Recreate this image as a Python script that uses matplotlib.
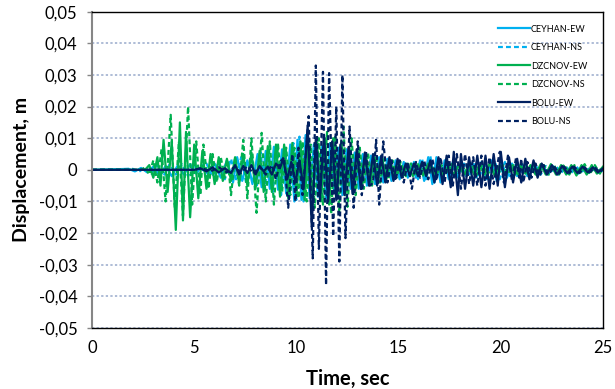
import numpy as np
import matplotlib
matplotlib.use("Agg")
import matplotlib.pyplot as plt
from matplotlib.ticker import FuncFormatter, MultipleLocator

plt.rcParams['font.family'] = ['Lato', 'DejaVu Sans']

# peaks, (time in s, displacement in mm)
ceyhan_ew_mm = [(0, 0), (1.8, 0.3), (2.1, -0.5), (2.4, 0.6), (2.7, -0.8), (3.0, 1.0), (3.3, -1.8), (3.6, 1.2),
    (3.9, -2.0), (4.2, 1.5), (4.5, -1.5), (4.8, 1.8), (5.1, -1.2), (5.4, 1.5), (5.7, -1.8), (6.0, 2.0),
    (6.3, -2.5), (6.6, 3.0), (6.9, -4.0), (7.1, 4.0), (7.35, -3.5), (7.6, 3.0), (7.85, -4.5), (8.1, 5.0),
    (8.3, -5.5), (8.5, 6.0), (8.7, -6.0), (8.9, 7.3), (9.1, -6.3), (9.3, 6.5), (9.5, -7.5), (9.7, 8.0),
    (9.9, -10.0), (10.05, 9.5), (10.25, -9.5), (10.45, 11.0), (10.65, -9.0), (10.85, 8.0), (11.05, -8.5),
    (11.25, 7.5), (11.45, -9.0), (11.65, 8.5), (11.85, -7.0), (12.05, 7.0), (12.25, -8.0), (12.45, 6.5),
    (12.65, -6.0), (12.85, 5.5), (13.05, -6.0), (13.25, 5.0), (13.45, -5.0), (13.65, 4.5), (13.85, -4.5),
    (14.05, 4.0), (14.25, -4.0), (14.45, 3.5), (14.65, -3.5), (14.85, 3.0), (15.05, -3.0), (15.25, 2.5),
    (15.45, -2.5), (15.65, 2.0), (15.85, -2.5), (16.05, 3.0), (16.25, -3.5), (16.45, 4.0), (16.65, -4.5),
    (16.85, 4.0), (17.05, -4.0), (17.25, 3.0), (17.45, -3.0), (17.65, 2.5), (17.85, -2.5), (18.05, 2.0),
    (18.3, -2.0), (18.55, 2.0), (18.8, -2.5), (19.05, 2.5), (19.3, -3.0), (19.55, 3.0), (19.8, -3.5),
    (20.05, 2.5), (20.3, -2.5), (20.55, 2.0), (20.8, -2.0), (21.05, 1.8), (21.3, -2.0), (21.55, 1.5),
    (21.8, -1.5), (22.05, 1.5), (22.3, -1.5), (22.55, 1.2), (22.8, -1.5), (23.05, 1.2), (23.3, -1.2),
    (23.55, 1.0), (23.8, -1.2), (24.05, 1.0), (24.3, -1.0), (24.55, 0.8), (24.8, -1.0), (25.0, 0.5)]

ceyhan_ns_mm = [(0, 0), (2.0, 0.3), (2.3, -0.6), (2.6, 0.8), (2.9, -1.2), (3.2, 1.5), (3.5, -2.0), (3.8, 1.8),
    (4.1, -1.5), (4.4, 1.8), (4.7, -2.0), (5.0, 1.5), (5.3, -1.8), (5.6, 2.0), (5.9, -2.2), (6.2, 2.5),
    (6.5, -3.0), (6.8, 3.5), (7.05, -3.0), (7.3, 4.0), (7.55, -4.5), (7.8, 4.5), (8.05, -5.0), (8.25, 5.5),
    (8.45, -6.5), (8.65, 6.0), (8.85, -7.0), (9.05, 7.5), (9.25, -8.0), (9.45, 7.0), (9.65, -9.0),
    (9.85, 8.5), (10.0, -9.5), (10.15, 10.5), (10.35, -10.0), (10.55, 9.0), (10.75, -8.0), (10.95, 8.5),
    (11.15, -7.5), (11.35, 8.0), (11.55, -8.5), (11.75, 7.0), (11.95, -7.5), (12.15, 6.5), (12.35, -7.0),
    (12.55, 6.0), (12.75, -5.5), (12.95, 5.5), (13.15, -5.0), (13.35, 4.5), (13.55, -4.5), (13.75, 4.0),
    (13.95, -4.0), (14.15, 3.5), (14.35, -3.5), (14.55, 3.0), (14.75, -3.0), (14.95, 2.5), (15.15, -2.5),
    (15.35, 2.0), (15.55, -2.0), (15.75, 2.5), (15.95, -3.0), (16.15, 3.5), (16.35, -3.5), (16.55, 4.5),
    (16.75, -4.0), (16.95, 3.5), (17.15, -3.5), (17.35, 3.0), (17.55, -2.5), (17.75, 2.0), (17.95, -2.0),
    (18.2, 2.0), (18.45, -2.0), (18.7, 2.5), (18.95, -2.5), (19.2, 2.5), (19.45, -3.0), (19.7, 3.0),
    (19.95, -3.0), (20.2, 2.5), (20.45, -2.0), (20.7, 2.0), (20.95, -1.8), (21.2, 1.8), (21.45, -1.5),
    (21.7, 1.5), (21.95, -1.5), (22.2, 1.2), (22.45, -1.2), (22.7, 1.2), (22.95, -1.0), (23.2, 1.0),
    (23.45, -1.0), (23.7, 1.0), (23.95, -0.8), (24.2, 0.8), (24.45, -0.8), (24.7, 0.8), (25.0, -0.5)]

dzcnov_ew_mm = [(0, 0), (2.6, 0), (2.8, 1.5), (3.0, -2.5), (3.2, 4.0), (3.35, -5.0), (3.5, 9.5), (3.7, -7.0),
    (3.9, 9.0), (4.1, -19.0), (4.3, 15.0), (4.45, -16.0), (4.6, 12.0), (4.8, -15.0), (5.0, 8.0), (5.2, -9.0),
    (5.4, 6.0), (5.6, -6.0), (5.8, 5.0), (6.0, -4.5), (6.2, 4.0), (6.4, -3.5), (6.6, 3.5), (6.8, -3.5),
    (7.0, 4.0), (7.2, -4.5), (7.4, 5.0), (7.6, -5.0), (7.8, 5.5), (8.0, -6.0), (8.2, 6.0), (8.4, -7.0),
    (8.6, 7.5), (8.8, -7.0), (9.0, 8.0), (9.2, -8.5), (9.4, 8.0), (9.6, -9.0), (9.8, 8.5), (10.0, -8.0),
    (10.2, 9.0), (10.4, -9.5), (10.6, 8.0), (10.8, -9.0), (11.0, 9.5), (11.2, -10.0), (11.4, 10.0),
    (11.6, -11.0), (11.8, 10.0), (12.0, -9.0), (12.2, 9.0), (12.4, -8.0), (12.6, 7.0), (12.8, -6.5),
    (13.0, 6.0), (13.2, -5.5), (13.4, 5.0), (13.6, -4.5), (13.8, 4.0), (14.0, -3.5), (14.2, 3.5),
    (14.4, -3.0), (14.6, 3.0), (14.8, -2.5), (15.0, 2.5), (15.2, -2.0), (15.45, 2.0), (15.7, -2.0),
    (15.95, 1.8), (16.2, -1.8), (16.45, 2.0), (16.7, -1.5), (16.95, 1.5), (17.2, -1.8), (17.45, 1.5),
    (17.7, -1.5), (17.95, 1.5), (18.2, -1.5), (18.45, 1.8), (18.7, -1.5), (18.95, 1.5), (19.2, -1.5),
    (19.45, 2.0), (19.7, -1.8), (19.95, 1.5), (20.2, -1.5), (20.45, 1.8), (20.7, -1.5), (20.95, 1.5),
    (21.2, -1.2), (21.45, 1.5), (21.7, -1.5), (21.95, 1.8), (22.2, -1.5), (22.45, 1.8), (22.7, -1.5),
    (22.95, 1.5), (23.2, -1.5), (23.45, 1.5), (23.7, -1.8), (23.95, 1.5), (24.2, -1.5), (24.45, 1.5),
    (24.7, -1.2), (25.0, 1.0)]

dzcnov_ns_mm = [(0, 0), (2.4, 0), (2.6, 0.8), (2.8, -1.5), (3.0, 3.0), (3.2, -4.0), (3.4, 6.5), (3.6, -10.0),
    (3.85, 17.4), (4.05, -12.0), (4.25, 9.0), (4.45, -14.5), (4.7, 20.0), (4.9, -11.0), (5.1, 9.0),
    (5.3, -8.0), (5.45, 8.0), (5.7, -6.0), (5.9, 5.0), (6.1, -4.0), (6.3, 4.0), (6.5, -2.5), (6.65, 3.0),
    (6.8, -8.0), (7.0, 4.0), (7.2, -5.0), (7.4, 9.5), (7.6, -9.0), (7.8, 10.0), (8.05, -13.6), (8.3, 11.7),
    (8.5, -10.0), (8.7, 9.0), (8.9, -11.0), (9.1, 8.0), (9.3, -7.0), (9.5, 7.0), (9.7, -8.0), (9.9, 7.0),
    (10.1, -9.0), (10.3, 9.0), (10.5, -10.0), (10.7, 8.0), (10.9, -12.0), (11.1, 10.0), (11.3, -11.0),
    (11.5, 12.0), (11.7, -14.0), (11.9, 11.0), (12.1, -13.7), (12.3, 13.7), (12.5, -11.7), (12.7, 10.0),
    (12.9, -8.0), (13.1, 7.0), (13.3, -6.0), (13.5, 5.5), (13.7, -5.0), (13.9, 4.5), (14.1, -4.0),
    (14.3, 3.5), (14.5, -3.0), (14.7, 3.0), (14.9, -2.5), (15.1, 2.5), (15.35, -2.0), (15.6, 2.0),
    (15.85, -2.0), (16.1, 1.8), (16.35, -1.8), (16.6, 1.8), (16.85, -1.5), (17.1, 1.5), (17.35, -1.5),
    (17.6, 1.8), (17.85, -1.5), (18.1, 1.5), (18.35, -1.8), (18.6, 1.5), (18.85, -1.5), (19.1, 1.8),
    (19.35, -1.5), (19.6, 1.5), (19.85, -1.8), (20.1, 1.5), (20.35, -1.5), (20.6, 1.5), (20.85, -1.5),
    (21.1, 1.8), (21.35, -1.5), (21.6, 1.5), (21.85, -1.2), (22.1, 1.5), (22.35, -1.5), (22.6, 1.5),
    (22.85, -1.5), (23.1, 1.8), (23.35, -1.5), (23.6, 1.5), (23.85, -1.5), (24.1, 1.8), (24.35, -1.5),
    (24.6, 1.5), (24.85, -1.2), (25.0, 0.8)]

bolu_ew_mm = [(0, 0), (5.0, 0), (5.3, 0.5), (5.6, -0.5), (5.9, 0.8), (6.2, -0.8), (6.5, 0.5), (6.8, -1.0),
    (7.0, 1.5), (7.2, -1.5), (7.4, 1.2), (7.6, -1.0), (7.8, 1.5), (8.0, -1.5), (8.2, 1.2), (8.4, -0.5),
    (8.6, 1.0), (8.8, -1.5), (9.0, 2.0), (9.2, 0.5), (9.35, 3.5), (9.55, -3.0), (9.75, 2.5), (9.95, -4.0),
    (10.15, 3.0), (10.35, -6.0), (10.55, 14.0), (10.75, -18.0), (10.95, 10.0), (11.15, -9.0), (11.35, 11.0),
    (11.55, -10.0), (11.75, 9.0), (11.95, -9.5), (12.15, 8.0), (12.35, -8.0), (12.55, 7.0), (12.75, -7.5),
    (12.95, 6.5), (13.15, -6.0), (13.35, 5.5), (13.55, -5.0), (13.75, 5.0), (13.95, -5.0), (14.15, 4.5),
    (14.35, -4.0), (14.55, 4.0), (14.75, -3.5), (14.95, 3.5), (15.15, -2.5), (15.35, 2.0), (15.55, -2.0),
    (15.75, 2.0), (15.95, -2.0), (16.15, 2.5), (16.35, -2.0), (16.55, 3.0), (16.75, -4.0), (16.95, 4.0),
    (17.15, -4.5), (17.35, 4.5), (17.55, -5.5), (17.7, 5.7), (17.9, -8.0), (18.05, 5.0), (18.25, -6.0),
    (18.45, 4.0), (18.65, -5.0), (18.85, 4.5), (19.05, -5.5), (19.25, 4.5), (19.45, -6.0), (19.65, 5.0),
    (19.85, -5.0), (20.0, 5.7), (20.2, -5.5), (20.4, 4.0), (20.6, -4.0), (20.8, 3.5), (21.0, -4.0),
    (21.2, 3.5), (21.4, -3.0), (21.6, 3.0), (21.8, -2.5), (22.0, 2.0), (22.25, -1.5), (22.5, 1.5),
    (22.75, -1.5), (23.0, 1.2), (23.25, -1.0), (23.5, 1.0), (23.75, -1.0), (24.0, 1.0), (24.25, -0.8),
    (24.5, 0.8), (24.75, -0.8), (25.0, 0.5)]

bolu_ns_mm = [(0, 0), (5.0, 0), (5.4, 0.5), (5.8, -0.5), (6.2, 0.8), (6.6, -0.8), (7.0, 1.0), (7.3, -1.0),
    (7.6, 1.2), (7.9, -1.2), (8.2, 1.0), (8.5, -1.5), (8.8, 1.5), (9.0, -3.0), (9.2, 2.5), (9.4, 4.0),
    (9.6, -12.0), (9.8, 5.0), (9.95, -10.0), (10.1, 7.0), (10.3, -8.0), (10.6, 17.0), (10.8, -28.0),
    (10.95, 33.0), (11.1, -25.0), (11.3, 31.0), (11.45, -36.4), (11.6, 30.6), (11.8, -21.0), (11.95, 20.0),
    (12.1, -29.0), (12.25, 30.0), (12.4, -21.6), (12.6, 13.7), (12.8, -12.0), (13.0, 9.0), (13.2, -8.0),
    (13.4, 6.0), (13.6, -5.0), (13.75, -4.0), (13.9, 9.5), (14.05, -11.0), (14.25, 9.0), (14.45, -4.0),
    (14.65, 3.0), (14.85, -3.5), (15.05, 3.0), (15.25, -4.0), (15.45, 2.5), (15.65, -6.0), (15.85, 2.5),
    (16.05, -2.5), (16.25, 3.0), (16.45, -3.0), (16.65, 3.5), (16.85, -3.5), (17.05, 4.0), (17.25, -4.0),
    (17.45, 4.5), (17.65, -5.0), (17.85, 5.0), (18.05, -6.0), (18.25, 5.0), (18.45, -4.5), (18.65, 4.0),
    (18.85, -5.0), (19.05, 4.5), (19.25, -5.0), (19.45, 4.0), (19.65, -4.5), (19.95, 5.7), (20.15, -4.0),
    (20.35, 4.5), (20.55, -3.5), (20.75, 4.0), (20.9, -2.5), (21.0, 3.5), (21.1, -4.0), (21.3, 2.5),
    (21.5, -2.5), (21.7, 2.0), (21.9, -2.0), (22.1, 1.5), (22.35, -1.5), (22.6, 1.2), (22.85, -1.2),
    (23.1, 1.0), (23.35, -1.0), (23.6, 1.0), (23.85, -1.0), (24.1, 0.8), (24.35, -0.8), (24.6, 0.8),
    (24.85, -0.8), (25.0, 0.3)]

labels = ['CEYHAN-EW', 'CEYHAN-NS', 'DZCNOV-EW', 'DZCNOV-NS', 'BOLU-EW', 'BOLU-NS']
series = [ceyhan_ew_mm, ceyhan_ns_mm, dzcnov_ew_mm, dzcnov_ns_mm, bolu_ew_mm, bolu_ns_mm]
colors = ['#00B0F0', '#00B0F0', '#00B050', '#00B050', '#002060', '#002060']
dashed = (0, (2.2, 1.4))
styles = ['-', dashed, '-', dashed, '-', dashed]

fig = plt.figure(figsize=(6.15, 3.89), dpi=100)
ax = fig.add_axes([0.1496, 0.157, 0.8309, 0.8128])

for data, lab, c, ls in zip(series, labels, colors, styles):
    t = [p[0] for p in data]
    d = np.array([p[1] for p in data]) / 1000.0   # mm -> m
    ax.plot(t, d, color=c, ls=ls, lw=1.6, label=lab)

ax.set_xlim(0, 25)
ax.set_ylim(-0.05, 0.05)
ax.xaxis.set_major_locator(MultipleLocator(5))
ax.yaxis.set_major_locator(MultipleLocator(0.01))

def comma(v, pos):
    if abs(v) < 1e-9:
        return '0'
    return ('%.2f' % v).replace('.', ',')
ax.yaxis.set_major_formatter(FuncFormatter(comma))

ax.grid(axis='y', color='#98AACB', ls=(0, (1.5, 1.5)), lw=1.1)
ax.set_axisbelow(True)
ax.tick_params(axis='y', length=3.5, width=1, color='#868686', labelsize=12, pad=7)
ax.tick_params(axis='x', length=0, labelsize=12, pad=9)
for s in ['top', 'right', 'bottom']:
    ax.spines[s].set_color('black')
    ax.spines[s].set_linewidth(1.0)
ax.spines['left'].set_color('#868686')
ax.spines['left'].set_linewidth(1.5)

ax.set_xlabel('Time, sec', fontsize=14.5, fontweight='bold', labelpad=9)
ax.set_ylabel('Displacement, m', fontsize=14, fontweight='bold', labelpad=6)

ax.legend(loc='upper right', bbox_to_anchor=(0.985, 0.985), frameon=False, fontsize=6.5,
          handlelength=3.5, handletextpad=0.1, labelspacing=1.05)

fig.savefig('out.png', dpi=100)
